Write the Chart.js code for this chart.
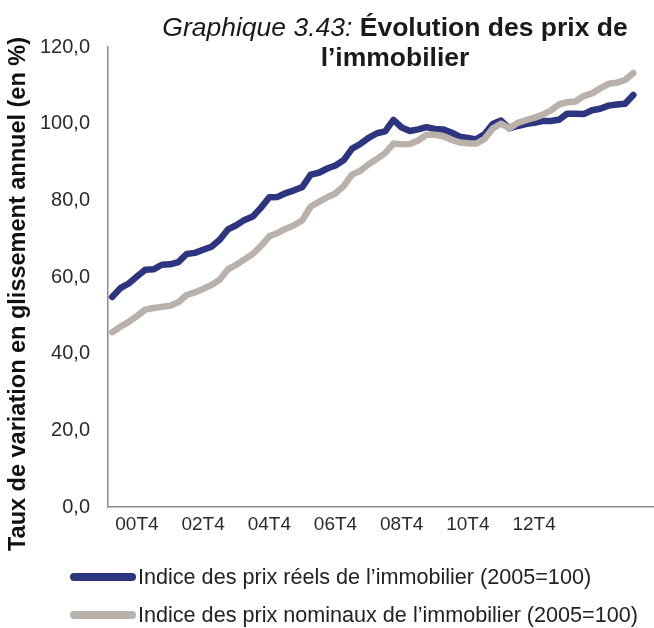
<!DOCTYPE html>
<html>
<head>
<meta charset="utf-8">
<script src="https://cdn.jsdelivr.net/npm/chart.js@4.4.1/dist/chart.umd.min.js"></script>
<style>
  body { margin: 0; background: #ffffff; }
  #wrap { position: relative; width: 654px; height: 628px; font-family: "Liberation Sans", Arial, sans-serif; }
  #titre { position: absolute; left: 150px; width: 490px; top: 12px; text-align: center; font-size: 26.5px; line-height: 30px; color: #1a1a1a; }
  #titre i { font-weight: normal; }
  #titre b { font-weight: bold; }
  .leg-row { position: absolute; left: 0; height: 24px; }
  .leg-line { position: absolute; left: 70px; width: 66px; height: 8px; top: 8px; border-radius: 4px; }
  .leg-text { position: absolute; left: 138px; top: 0; white-space: nowrap; font-size: 21.6px; line-height: 24px; color: #222222; }
</style>
</head>
<body>
<div id="wrap">
  <canvas id="graphique" width="654" height="628"></canvas>
  <div id="titre"><i>Graphique 3.43:</i> <b>Évolution des prix de<br>l’immobilier</b></div>
  <div id="legende"></div>
</div>
<script>
// trimestres (seuls quelques-uns sont affichés sur l'axe)
var categories = [
  '00T1','00T2','00T3','00T4','01T1','01T2','01T3','01T4',
  '02T1','02T2','02T3','02T4','03T1','03T2','03T3','03T4',
  '04T1','04T2','04T3','04T4','05T1','05T2','05T3','05T4',
  '06T1','06T2','06T3','06T4','07T1','07T2','07T3','07T4',
  '08T1','08T2','08T3','08T4','09T1','09T2','09T3','09T4',
  '10T1','10T2','10T3','10T4','11T1','11T2','11T3','11T4',
  '12T1','12T2','12T3','12T4','13T1','13T2','13T3','13T4',
  '14T1','14T2','14T3','14T4','15T1','15T2','15T3','15T4',
  '16T1','16T2'
];
var shownTicks = ['00T4','02T4','04T4','06T4','08T4','10T4','12T4'];

var seriesLabels = [
  'Indice des prix réels de l’immobilier (2005=100)',
  'Indice des prix nominaux de l’immobilier (2005=100)'
];
var titreAxeY = 'Taux de variation en glissement annuel (en %)';

// indice des prix réels
var prixReels = [
  54.8,57.1,58.3,60.1,61.9,62.0,63.2,63.3,63.9,66.0,66.3,67.1,67.9,69.7,72.4,73.5,
  74.9,75.8,78.1,80.8,80.9,81.9,82.6,83.5,86.7,87.2,88.3,89.1,90.5,93.5,94.7,96.3,
  97.5,98.0,101.0,99.0,98.1,98.5,99.1,98.6,98.5,97.7,96.6,96.3,95.9,97.2,99.9,100.8,
  98.8,99.4,99.9,100.2,100.7,100.7,101.0,102.6,102.6,102.5,103.5,103.9,104.7,105.0,105.2,107.5
];

// indice des prix nominaux
var prixNominaux = [
  45.6,47.0,48.3,49.8,51.5,51.9,52.2,52.5,53.4,55.3,56.0,56.9,57.9,59.3,62.0,63.2,
  64.6,66.0,68.1,70.6,71.5,72.6,73.5,74.8,78.4,79.6,80.8,81.8,83.8,86.7,87.7,89.4,
  90.8,92.3,94.8,94.6,94.7,95.6,97.1,97.1,96.7,95.8,95.1,94.9,94.8,96.0,98.7,100.0,
  98.8,100.2,100.9,101.5,102.3,103.4,105.0,105.6,105.8,107.2,107.9,109.2,110.4,110.7,111.4,113.2
];

var couleurs = ['#2d3580', '#bab2aa'];
var police = '"Liberation Sans", Arial, sans-serif';

// titre de l'axe vertical, dessiné un peu plus bas que le centre de l'axe
var titreAxePlugin = {
  id: 'titreAxe',
  afterDraw: function(chart) {
    var c = chart.ctx;
    c.save();
    c.translate(19, 294);
    c.rotate(-Math.PI / 2);
    c.font = 'bold 23.5px ' + police;
    c.fillStyle = '#111111';
    c.textAlign = 'center';
    c.textBaseline = 'middle';
    c.fillText(titreAxeY, 0, 0);
    c.restore();
  }
};

var ctx = document.getElementById('graphique').getContext('2d');
var graphique = new Chart(ctx, {
  type: 'line',
  data: {
    labels: categories,
    datasets: [{
      label: seriesLabels[0],
      data: prixReels,
      borderColor: couleurs[0],
      backgroundColor: couleurs[0],
      borderWidth: 6.5,
      pointRadius: 0,
      tension: 0,
      borderCapStyle: 'round',
      borderJoinStyle: 'round',
      order: 1
    }, {
      label: seriesLabels[1],
      data: prixNominaux,
      borderColor: couleurs[1],
      backgroundColor: couleurs[1],
      borderWidth: 6.5,
      pointRadius: 0,
      tension: 0,
      borderCapStyle: 'round',
      borderJoinStyle: 'round',
      order: 0 // la courbe grise passe au-dessus
    }]
  },
  options: {
    responsive: false,
    animation: false,
    layout: { padding: { top: 47, right: 0, bottom: 91, left: 0 } },
    plugins: {
      legend: { display: false },
      title: { display: false },
      tooltip: { enabled: false }
    },
    scales: {
      x: {
        type: 'category',
        offset: true,
        grid: { display: false, drawTicks: false },
        border: { display: true, color: '#8c8c8c', width: 1.5 },
        ticks: {
          autoSkip: false,
          maxRotation: 0,
          padding: 6,
          color: '#2a2a2a',
          font: { family: police, size: 19 },
          callback: function(value, index) {
            var lab = categories[index];
            return shownTicks.indexOf(lab) >= 0 ? lab : null;
          }
        },
        afterFit: function(scale) { scale.height = 30; }
      },
      y: {
        min: 0,
        max: 120,
        grid: { display: false, drawTicks: false },
        border: { display: true, color: '#8c8c8c', width: 1.5 },
        ticks: {
          stepSize: 20,
          padding: 18,
          color: '#2a2a2a',
          font: { family: police, size: 20 },
          callback: function(value) { return value.toFixed(1).replace('.', ','); }
        },
        afterFit: function(scale) { scale.width = 108; }
      }
    }
  },
  plugins: [titreAxePlugin]
});

// légende en bas, alignée à gauche
var legende = document.getElementById('legende');
var centres = [577, 615];
for (var i = 0; i < seriesLabels.length; i++) {
  var row = document.createElement('div');
  row.className = 'leg-row';
  row.style.top = (centres[i] - 12) + 'px';
  row.innerHTML = '<span class="leg-line" style="background:' + couleurs[i] + '"></span>' +
                  '<span class="leg-text">' + seriesLabels[i] + '</span>';
  legende.appendChild(row);
}
</script>
</body>
</html>
